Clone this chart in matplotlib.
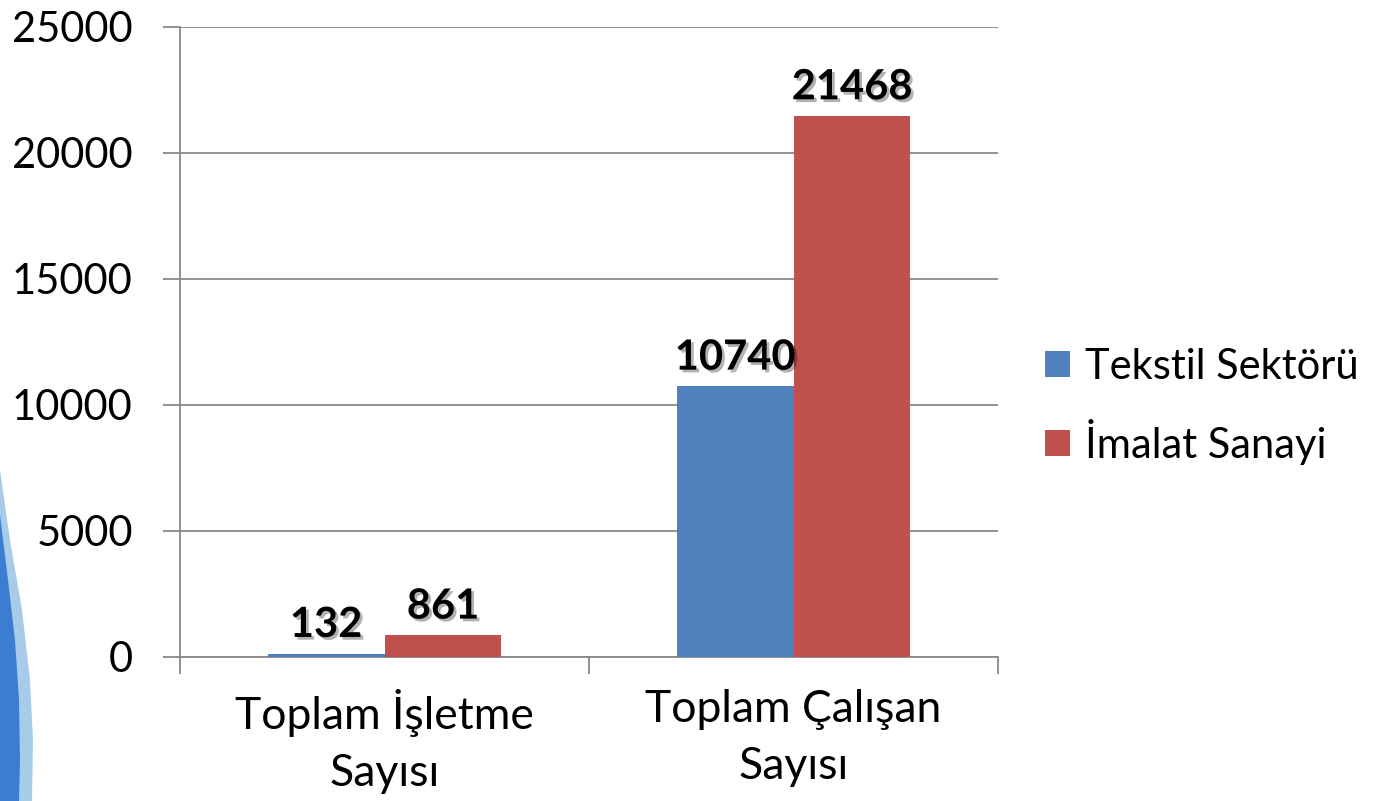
import matplotlib
matplotlib.use("Agg")
import matplotlib.pyplot as plt
import matplotlib.patheffects as pe
from matplotlib.patches import Polygon
import numpy as np

categories = ["Toplam İşletme\nSayısı", "Toplam Çalışan\nSayısı"]
series_names = ["Tekstil Sektörü", "İmalat Sanayi"]
tekstil = [132, 10740]
imalat = [861, 21468]
colors = ["#4F81BD", "#C0504D"]
yticks = [0, 5000, 10000, 15000, 20000, 25000]

plt.rcParams['font.family'] = ['Lato', 'DejaVu Sans']

fig = plt.figure(figsize=(13.95, 8.01), dpi=100)
# decorative slide swoosh (bottom-left)
W, H = 1395, 801
outer = [(0, 470), (10, 540), (22, 610), (30, 680), (33, 740), (32, 801), (0, 801)]
inner = [(0, 515), (8, 580), (15, 640), (19, 700), (20, 760), (19, 801), (0, 801)]
fig.patches.append(Polygon([(x / W, 1 - y / H) for x, y in outer], closed=True,
                           transform=fig.transFigure, facecolor="#A9CBEA", edgecolor="none", zorder=0))
fig.patches.append(Polygon([(x / W, 1 - y / H) for x, y in inner], closed=True,
                           transform=fig.transFigure, facecolor="#3B7DD0", edgecolor="none", zorder=0))

ax = fig.add_axes([180 / W, 1 - 657 / H, (998 - 180) / W, (657 - 27) / H])
ax.set_facecolor("none")

x = np.arange(len(categories)) + 0.5
bw = 0.286
b1 = ax.bar(x - bw / 2, tekstil, bw, color=colors[0], label=series_names[0], zorder=3)
b2 = ax.bar(x + bw / 2, imalat, bw, color=colors[1], label=series_names[1], zorder=3)

shadow = [pe.SimplePatchShadow(offset=(2, -2), alpha=0.3), pe.Normal()]
for bars, vals in ((b1, tekstil), (b2, imalat)):
    for r, v in zip(bars, vals):
        ax.annotate(str(v), (r.get_x() + r.get_width() / 2, v), xytext=(0, 7),
                    textcoords="offset points", ha="center", va="bottom",
                    fontsize=30, fontweight="bold", color="black",
                    path_effects=shadow, zorder=5)

ax.set_xlim(0, 2)
ax.set_ylim(0, 25000)
ax.set_yticks(yticks)
ax.set_yticklabels([str(t) for t in yticks], fontsize=30)
ax.set_xticks([0, 1, 2])
ax.set_xticklabels([])
ax.set_xticks(x, minor=True)
ax.set_xticklabels(categories, minor=True, fontsize=32, linespacing=1.5)
ax.tick_params(axis="x", which="minor", length=0, pad=23)
ax.tick_params(axis="x", which="major", length=12, color="#888888", width=1.3)
ax.tick_params(axis="y", length=12, color="#888888", width=1.3, pad=22)

ax.grid(axis="y", color="#888888", linewidth=1.3, zorder=0)
ax.spines["top"].set_visible(False)
ax.spines["right"].set_visible(False)
for s in ["left", "bottom"]:
    ax.spines[s].set_color("#888888")
    ax.spines[s].set_linewidth(1.3)

leg = ax.legend(loc="center left", bbox_to_anchor=(1.012, 0.398), frameon=False,
                fontsize=30, handlelength=0.6, handleheight=0.6, handletextpad=0.35,
                labelspacing=0.8)

fig.savefig("out.png", dpi=100)
